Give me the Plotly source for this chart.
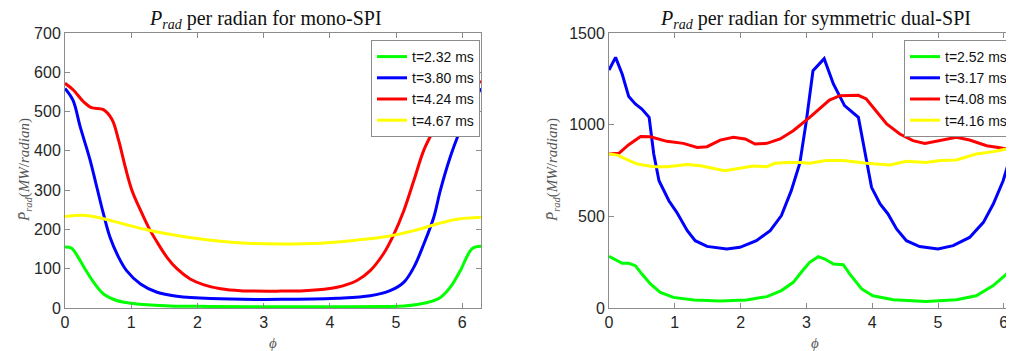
import plotly.graph_objects as go
import math

# ---------------- mono-SPI (left) ----------------
mono_labels = ["t=2.32 ms", "t=3.80 ms", "t=4.24 ms", "t=4.67 ms"]

mono_green_phi = [0, 0.10, 0.20, 0.30, 0.43, 0.58, 0.78, 1.09, 1.59, 2.2, 3.26, 4.11, 4.8, 5.12, 5.47, 5.67, 5.82, 5.97, 6.15, 6.283]
mono_green_val = [155, 152, 129, 100, 66, 36, 19, 10, 5, 4, 3, 3, 4, 5, 14, 27, 53, 95, 151, 157]

mono_blue_phi = [0, 0.12, 0.23, 0.38, 0.48, 0.58, 0.68, 0.81, 0.93, 1.14, 1.39, 1.69, 2.20, 3.26, 4.11, 4.61, 4.91, 5.12, 5.27, 5.42, 5.57, 5.67, 5.82, 5.97, 6.12, 6.283]
mono_blue_val = [559, 529, 461, 376, 308, 240, 180, 129, 95, 61, 40, 30, 24, 22, 25, 31, 44, 66, 104, 163, 231, 300, 385, 453, 512, 559]

mono_red_phi = [0, 0.126, 0.28, 0.40, 0.58, 0.71, 0.81, 0.91, 1.01, 1.14, 1.26, 1.39, 1.54, 1.69, 1.89, 2.10, 2.35, 2.65, 3.26, 3.61, 4.11, 4.41, 4.61, 4.81, 4.96, 5.12, 5.27, 5.42, 5.57, 5.72, 5.92, 6.12, 6.283]
mono_red_val = [572, 555, 525, 510, 505, 480, 427, 359, 300, 249, 206, 168, 129, 100, 74, 59, 49, 44, 43, 44, 53, 70, 95, 138, 185, 249, 325, 402, 453, 495, 538, 568, 576]

mono_yellow_phi = [0, 0.23, 0.43, 0.68, 0.93, 1.24, 1.54, 1.94, 2.35, 2.75, 3.26, 3.86, 4.36, 4.86, 5.27, 5.62, 5.92, 6.283]
mono_yellow_val = [233, 236, 233, 223, 212, 199, 189, 178, 170, 165, 163, 165, 172, 182, 197, 214, 226, 231]

# ---------------- symmetric dual-SPI (right) ----------------
dual_labels = ["t=2.52 ms", "t=3.17 ms", "t=4.08 ms", "t=4.16 ms"]

dual_green_phi = [0, 0.10, 0.20, 0.30, 0.40, 0.50, 0.63, 0.78, 0.98, 1.29, 1.69, 2.09, 2.40, 2.62, 2.80, 2.95, 3.05, 3.18, 3.28, 3.41, 3.56, 3.66, 3.84, 4.01, 4.32, 4.82, 5.28, 5.58, 5.84, 6.04, 6.16]
dual_green_val = [282, 262, 244, 244, 231, 185, 131, 85, 58, 44, 38, 44, 62, 95, 140, 207, 249, 280, 267, 240, 236, 185, 104, 67, 45, 36, 45, 67, 122, 185, 231]

dual_blue_phi = [0, 0.10, 0.20, 0.30, 0.40, 0.50, 0.61, 0.68, 0.76, 0.81, 0.91, 1.03, 1.19, 1.31, 1.49, 1.79, 1.99, 2.24, 2.45, 2.62, 2.77, 2.90, 3.00, 3.10, 3.19, 3.27, 3.41, 3.58, 3.79, 3.89, 3.99, 4.12, 4.24, 4.37, 4.52, 4.72, 5.00, 5.23, 5.48, 5.69, 5.84, 5.99, 6.12, 6.16]
dual_blue_val = [1298, 1367, 1276, 1153, 1113, 1085, 1040, 840, 694, 658, 585, 522, 422, 367, 336, 322, 331, 367, 422, 504, 640, 790, 1022, 1294, 1330, 1360, 1222, 1104, 1040, 840, 658, 567, 513, 431, 367, 335, 322, 340, 385, 467, 567, 694, 849, 876]

dual_red_phi = [0, 0.15, 0.30, 0.48, 0.63, 0.88, 1.13, 1.34, 1.49, 1.69, 1.89, 2.07, 2.22, 2.40, 2.60, 2.80, 3.05, 3.35, 3.51, 3.79, 3.91, 4.06, 4.22, 4.42, 4.62, 4.80, 5.03, 5.28, 5.48, 5.74, 5.99, 6.16]
dual_red_val = [840, 844, 891, 936, 934, 909, 898, 876, 880, 916, 931, 922, 894, 898, 922, 967, 1040, 1134, 1158, 1160, 1140, 1076, 1004, 949, 913, 898, 913, 931, 916, 885, 871, 867]

dual_yellow_phi = [0, 0.13, 0.25, 0.43, 0.68, 0.88, 1.19, 1.39, 1.76, 1.99, 2.19, 2.40, 2.52, 2.70, 2.90, 3.05, 3.30, 3.56, 3.91, 4.27, 4.52, 4.82, 5.03, 5.28, 5.58, 5.84, 6.04, 6.16]
dual_yellow_val = [840, 834, 813, 785, 771, 771, 782, 776, 749, 762, 774, 771, 789, 794, 794, 789, 804, 804, 789, 780, 800, 794, 804, 807, 840, 853, 867, 871]

colors = ["#00ff00", "#0000ff", "#ff0000", "#ffff00"]

# page body has an 8px margin; figure is sized so it ends at the window edge
OFF = 8
W, H = 1014 - OFF, 351 - OFF
fig = go.Figure()

mono = [(mono_green_phi, mono_green_val), (mono_blue_phi, mono_blue_val),
        (mono_red_phi, mono_red_val), (mono_yellow_phi, mono_yellow_val)]
dual = [(dual_green_phi, dual_green_val), (dual_blue_phi, dual_blue_val),
        (dual_red_phi, dual_red_val), (dual_yellow_phi, dual_yellow_val)]

for (px, py), c, lab in zip(mono, colors, mono_labels):
    fig.add_trace(go.Scatter(x=px, y=py, mode="lines", name=lab, line=dict(color=c, width=3),
                             line_shape="spline", xaxis="x", yaxis="y", legend="legend"))
for (px, py), c, lab in zip(dual, colors, dual_labels):
    fig.add_trace(go.Scatter(x=px, y=py, mode="lines", name=lab, line=dict(color=c, width=3),
                             xaxis="x2", yaxis="y2", legend="legend2"))

def px2x(p):
    return min(1.0, max(0.0, (p - OFF) / W))

def px2y(p):
    return min(1.0, max(0.0, 1 - (p - OFF) / H))

axis_common = dict(showline=True, linecolor="#8c8c8c", linewidth=1, mirror="ticks",
                   ticks="inside", ticklen=5, tickcolor="#8c8c8c", showgrid=False, zeroline=False,
                   automargin=False,
                   tickfont=dict(family="Liberation Sans, Arial", size=16, color="#262626"))

legend_common = dict(xanchor="right", yanchor="top", bgcolor="white", bordercolor="#8c8c8c",
                     borderwidth=1, font=dict(family="Liberation Sans, Arial", size=14, color="#111"),
                     itemwidth=30, tracegroupgap=0)

ydom = [px2y(308), px2y(33)]
fig.update_layout(
    template="none",
    width=W, height=H, margin=dict(l=0, r=0, t=0, b=0, autoexpand=False),
    plot_bgcolor="white", paper_bgcolor="white",
    xaxis=dict(domain=[px2x(65), px2x(481)], range=[0, 2 * math.pi], tickvals=[0, 1, 2, 3, 4, 5, 6],
               anchor="y", **axis_common),
    yaxis=dict(domain=ydom, range=[0, 700], tickvals=[0, 100, 200, 300, 400, 500, 600, 700],
               anchor="x", **axis_common),
    xaxis2=dict(domain=[px2x(609), 1.0], range=[0, 6.155], tickvals=[0, 1, 2, 3, 4, 5, 6],
                anchor="y2", **axis_common),
    yaxis2=dict(domain=ydom, range=[0, 1500], tickvals=[0, 500, 1000, 1500],
                anchor="x2", **axis_common),
    legend=dict(x=px2x(480), y=px2y(40), **legend_common),
    legend2=dict(x=px2x(1013), y=px2y(40), **legend_common),
    showlegend=True,
)

def note(x, y, text, font, angle=0):
    fig.add_annotation(x=px2x(x), y=px2y(y), xref="paper", yref="paper", showarrow=False,
                       xanchor="center", yanchor="middle", text=text, textangle=angle, font=font)

title_font = dict(family="Liberation Serif, DejaVu Serif, serif", size=20, color="#111")
note(265, 20, "<i>P</i><sub><i>rad</i></sub> per radian for mono-SPI", title_font)
note(815, 20, "<i>P</i><sub><i>rad</i></sub> per radian for symmetric dual-SPI", title_font)

ylab = "<i>P\u0304</i><sub><i>rad</i></sub>(<i>MW</i>/<i>radian</i>)"
lab_font = dict(family="Liberation Serif, DejaVu Serif, serif", size=15, color="#555555")
note(25, 170, ylab, lab_font, -90)
note(553, 170, ylab, lab_font, -90)
note(273, 343, "<i>\u03d5</i>", lab_font)
note(815, 343, "<i>\u03d5</i>", lab_font)

fig.write_html("out.html")
